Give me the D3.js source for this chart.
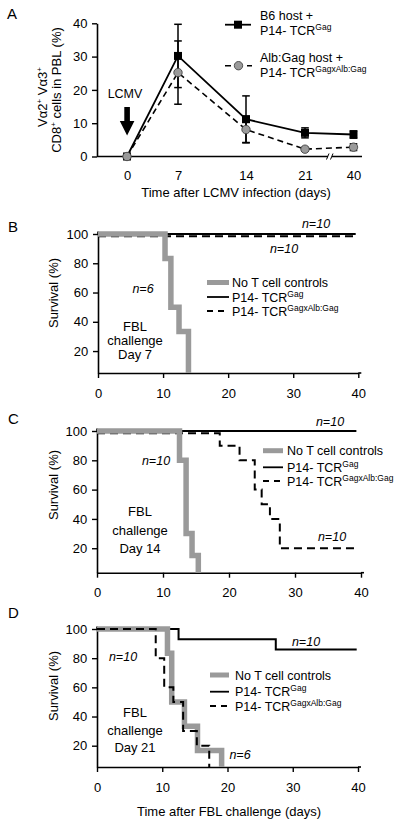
<!DOCTYPE html>
<html><head><meta charset="utf-8">
<script src="https://cdn.jsdelivr.net/npm/d3@7"></script>
<style>
body{margin:0;background:#fff}
svg text{font-family:"Liberation Sans",Arial,Helvetica,sans-serif;fill:#000}
</style>
</head><body>
<svg id="c" width="400" height="826"></svg>
<script>
// ---------------- DATA ----------------
// Panel A
const aDays = [0, 7, 14, 21, 40];
const aDayLabels = ["0", "7", "14", "21", "40"];
const aB6Mean = [0, 30.2, 11.2, 7.1, 6.6];
const aB6Err = [0, 9.5, 7, 1.5, 1.1];
const aAlbMean = [0, 25.2, 8.1, 2.2, 2.8];
const aAlbErr = [0, 9.5, 4, 0.5, 1];
const aYTicks = [0, 10, 20, 30, 40];

// Survival panels
const survXTicks = [0, 10, 20, 30, 40];
const survYTicks = [20, 40, 60, 80, 100];

const bCtrlDays = [0, 10.3, 11.2, 12.45, 13.9];
const bCtrlSurv = [100, 83.3, 50, 33.3, 0];
const bGagDays = [0, 39.6];
const bGagSurv = [100, 100];
const bAlbDays = [0, 39.6];
const bAlbSurv = [98.5, 98.5];

const cCtrlDays = [0, 12.5, 13.5, 14.4, 15.35];
const cCtrlSurv = [100, 80, 30, 15, 0];
const cGagDays = [0, 39.3];
const cGagSurv = [100, 100];
const cAlbDays = [0, 18.6, 21.6, 23.9, 24.95, 26.2, 27.7, 39.3];
const cAlbSurv = [98.5, 90, 80, 60, 50, 40, 20, 20];

const dCtrlDays = [0, 10.8, 11.45, 13.4, 15.4, 19.1];
const dCtrlSurv = [100, 83.3, 50, 33.3, 16.7, 0];
const dGagDays = [0, 12.5, 27.4, 39.8];
const dGagSurv = [100, 93, 86, 86];
const dAlbDays = [0, 9.0, 10.3, 11.7, 13.2, 15.3, 17.2];
const dAlbSurv = [100, 80, 60, 50, 30, 20, 0];

const legendLabels = ["No T cell controls", "P14- TCR", "P14- TCR"];
const legendSups = ["", "Gag", "GagxAlb:Gag"];

// ---------------- DRAWING ----------------
const svg = d3.select("#c");
const GRAY = "#9a9a9a";
const FS = 13;

function styleAxis(sel) {
  sel.attr("font-size", FS).attr("font-family", '"Liberation Sans",Arial,sans-serif');
  sel.selectAll("path.domain").attr("stroke", "#000").attr("stroke-width", 1.6);
  sel.selectAll(".tick line").attr("stroke", "#000").attr("stroke-width", 1.4);
  sel.selectAll(".tick text").attr("fill", "#000");
}

// text with superscript segments
function richText(parent, x, y, segs, opts = {}) {
  const t = parent.append("text").attr("x", x).attr("y", y)
    .attr("font-size", opts.fs || FS)
    .attr("text-anchor", opts.anchor || "start");
  if (opts.transform) t.attr("transform", opts.transform).attr("x", 0).attr("y", 0);
  if (opts.italic) t.attr("font-style", "italic");
  let raised = false;
  segs.forEach(s => {
    const sp = t.append("tspan").text(s.t);
    if (s.sup) {
      sp.attr("font-size", opts.supFs || 8.5).attr("dy", raised ? 0 : -5);
      raised = true;
    } else {
      if (raised) { sp.attr("dy", 5); raised = false; }
    }
  });
  return t;
}

function panelLabel(txt, x, y) {
  svg.append("text").attr("x", x).attr("y", y).attr("font-size", 15).text(txt);
}

// ---------- Panel A ----------
(function () {
  const x = d3.scaleLinear().domain(aDays).range([127, 178, 246, 305, 353.5]);
  const y = d3.scaleLinear().domain([0, 40]).range([156.5, 23.3]);
  const g = svg.append("g");

  // y axis
  const ya = g.append("g").attr("transform", "translate(97,0)")
    .call(d3.axisLeft(y).tickValues(aYTicks).tickSize(5).tickSizeOuter(0).tickPadding(4.5));
  styleAxis(ya);
  // x axis
  const xa = g.append("g").attr("transform", `translate(0,${y(0)})`)
    .call(d3.axisBottom(x).tickValues(aDays).tickFormat((d, i) => aDayLabels[i]).tickSize(0).tickPadding(14.3));
  styleAxis(xa);
  xa.select("path.domain").remove();
  g.append("line").attr("x1", 97).attr("x2", 362).attr("y1", y(0)).attr("y2", y(0))
    .attr("stroke", "#000").attr("stroke-width", 1.6);
  // axis break
  g.append("rect").attr("x", 328).attr("y", y(0) - 3).attr("width", 4).attr("height", 6).attr("fill", "#fff");
  [326.5, 330.5].forEach(bx => g.append("line").attr("x1", bx).attr("x2", bx + 2.5)
    .attr("y1", y(0) + 3).attr("y2", y(0) - 3).attr("stroke", "#000").attr("stroke-width", 1));

  const line = d3.line().x((d, i) => x(aDays[i])).y(d => y(d));

  function errBars(mean, err, color) {
    mean.forEach((m, i) => {
      if (!err[i]) return;
      const cx = x(aDays[i]);
      g.append("line").attr("x1", cx).attr("x2", cx).attr("y1", y(m - err[i])).attr("y2", y(m + err[i]))
        .attr("stroke", color).attr("stroke-width", 1.5);
      [m - err[i], m + err[i]].forEach(v => g.append("line").attr("x1", cx - 3.8).attr("x2", cx + 3.8)
        .attr("y1", y(v)).attr("y2", y(v)).attr("stroke", color).attr("stroke-width", 1.5));
    });
  }

  // B6 series
  g.append("path").datum(aB6Mean).attr("d", line).attr("fill", "none").attr("stroke", "#000").attr("stroke-width", 1.8);
  errBars(aB6Mean, aB6Err, "#000");
  g.selectAll(".sq").data(aB6Mean).enter().append("rect")
    .attr("x", (d, i) => x(aDays[i]) - 4).attr("y", d => y(d) - 4).attr("width", 8).attr("height", 8).attr("fill", "#000");

  // Alb:Gag series
  g.append("path").datum(aAlbMean).attr("d", line).attr("fill", "none").attr("stroke", "#000")
    .attr("stroke-width", 1.6).attr("stroke-dasharray", "6,4");
  errBars(aAlbMean, aAlbErr, "#000");
  g.selectAll(".ci").data(aAlbMean).enter().append("circle")
    .attr("cx", (d, i) => x(aDays[i])).attr("cy", d => y(d)).attr("r", 4.2)
    .attr("fill", GRAY).attr("stroke", "#444").attr("stroke-width", 0.9);

  // legend
  g.append("line").attr("x1", 225).attr("x2", 251).attr("y1", 24.7).attr("y2", 24.7).attr("stroke", "#000").attr("stroke-width", 1.8);
  g.append("rect").attr("x", 234).attr("y", 20.7).attr("width", 8).attr("height", 8).attr("fill", "#000");
  g.append("line").attr("x1", 225).attr("x2", 252).attr("y1", 65.7).attr("y2", 65.7).attr("stroke", "#000")
    .attr("stroke-width", 1.6).attr("stroke-dasharray", "6,5");
  g.append("circle").attr("cx", 238.5).attr("cy", 65.7).attr("r", 4.2).attr("fill", GRAY).attr("stroke", "#444").attr("stroke-width", 0.9);
  richText(g, 260, 20, [{t: "B6 host +"}], {fs: 12.5});
  richText(g, 260, 35, [{t: "P14- TCR"}, {t: "Gag", sup: true}], {fs: 12.5});
  richText(g, 260, 62, [{t: "Alb:Gag host +"}], {fs: 12.5});
  richText(g, 260, 76.5, [{t: "P14- TCR"}, {t: "GagxAlb:Gag", sup: true}], {fs: 12.5});

  // LCMV arrow
  g.append("text").attr("x", 125).attr("y", 98).attr("text-anchor", "middle").attr("font-size", 12.5).text("LCMV");
  g.append("path").attr("d", "M124.3,107H129.9V121H134.4L127.1,135.5L119.8,121H124.3Z").attr("fill", "#000");

  // axis titles
  g.append("text").attr("x", 236).attr("y", 196.5).attr("text-anchor", "middle").attr("font-size", FS)
    .text("Time after LCMV infection (days)");
  richText(g, 0, 0, [{t: "V\u03b12"}, {t: "+", sup: true}, {t: " V\u03b13"}, {t: "+", sup: true}],
    {anchor: "middle", transform: "translate(46.5,97) rotate(-90)", fs: FS, supFs: 8});
  richText(g, 0, 0, [{t: "CD8"}, {t: "+", sup: true}, {t: " cells in PBL (%)"}],
    {anchor: "middle", transform: "translate(60.5,90) rotate(-90)", fs: FS, supFs: 8});
})();
panelLabel("A", 7, 18.5);

// ---------- Survival panels ----------
function survPanel(cfg) {
  const x = d3.scaleLinear().domain([0, 40]).range(cfg.xr);
  const y = d3.scaleLinear().domain([cfg.ymin, 100]).range(cfg.yr).clamp(true);
  const g = svg.append("g");

  const xa = g.append("g").attr("transform", `translate(0,${cfg.yr[0]})`)
    .call(d3.axisBottom(x).tickValues(survXTicks).tickSize(5).tickSizeOuter(0).tickPadding(10.5));
  styleAxis(xa);
  const ya = g.append("g").attr("transform", `translate(${cfg.xr[0]},0)`)
    .call(d3.axisLeft(y).tickValues(survYTicks).tickSize(5).tickSizeOuter(0).tickPadding(4.8));
  styleAxis(ya);
  g.append("line").attr("x1", cfg.xr[0]).attr("x2", cfg.xr[0]).attr("y1", y(100)).attr("y2", y(100) - 2.5)
    .attr("stroke", "#000").attr("stroke-width", 1.6);
  g.append("line").attr("x1", cfg.xr[1]).attr("x2", cfg.xr[1] + 3).attr("y1", cfg.yr[0]).attr("y2", cfg.yr[0])
    .attr("stroke", "#000").attr("stroke-width", 1.6);

  const line = d3.line().x(d => x(d[0])).y(d => y(d[1])).curve(d3.curveStepAfter);
  const zip = (a, b) => a.map((v, i) => [v, b[i]]);

  const drawGag = () => g.append("path").datum(zip(cfg.gag[0], cfg.gag[1])).attr("d", line)
    .attr("fill", "none").attr("stroke", "#000").attr("stroke-width", 2);
  const drawAlb = () => g.append("path").datum(zip(cfg.alb[0], cfg.alb[1])).attr("d", line)
    .attr("fill", "none").attr("stroke", "#000").attr("stroke-width", 2).attr("stroke-dasharray", "8,5");
  const drawCtrl = () => g.append("path").datum(zip(cfg.ctrl[0], cfg.ctrl[1])).attr("d", line)
    .attr("fill", "none").attr("stroke", GRAY).attr("stroke-width", 5.5);

  drawGag();
  if (cfg.dashedOnTop) { drawCtrl(); drawAlb(); } else { drawAlb(); drawCtrl(); }

  // legend
  const L = cfg.leg;
  g.append("line").attr("x1", L.x0).attr("x2", L.x1).attr("y1", L.rows[0]).attr("y2", L.rows[0])
    .attr("stroke", GRAY).attr("stroke-width", 5);
  g.append("line").attr("x1", L.x0).attr("x2", L.x1).attr("y1", L.rows[1]).attr("y2", L.rows[1])
    .attr("stroke", "#000").attr("stroke-width", 1.8);
  g.append("line").attr("x1", L.x0).attr("x2", L.x1).attr("y1", L.rows[2]).attr("y2", L.rows[2])
    .attr("stroke", "#000").attr("stroke-width", 1.8).attr("stroke-dasharray", "6,5");
  legendLabels.forEach((lab, i) => {
    const segs = [{t: lab}];
    if (legendSups[i]) segs.push({t: legendSups[i], sup: true});
    richText(g, L.tx, L.rows[i] + 4.6, segs, {fs: 12.5});
  });

  // n labels
  cfg.nLabels.forEach(n => g.append("text").attr("x", n[1]).attr("y", n[2]).attr("text-anchor", "middle")
    .attr("font-size", 12.5).attr("font-style", "italic").text(n[0]));
  // FBL block
  cfg.fbl.forEach(f => g.append("text").attr("x", cfg.fblX).attr("y", f[1]).attr("text-anchor", "middle")
    .attr("font-size", FS).text(f[0]));
  // y title
  g.append("text").attr("transform", `translate(57.5,${cfg.yTitleY}) rotate(-90)`).attr("text-anchor", "middle")
    .attr("font-size", FS).text("Survival (%)");
}

survPanel({
  xr: [98, 358.3], yr: [373, 234], ymin: 5,
  ctrl: [bCtrlDays, bCtrlSurv], gag: [bGagDays, bGagSurv], alb: [bAlbDays, bAlbSurv],
  leg: {x0: 207, x1: 229, tx: 232, rows: [282.5, 297, 311]},
  nLabels: [["n=10", 316, 228], ["n=10", 284, 253], ["n=6", 143, 293]],
  fblX: 135, fbl: [["FBL", 331], ["challenge", 345], ["Day 7", 359]],
  yTitleY: 293
});
panelLabel("B", 8, 232);

survPanel({
  xr: [97, 361], yr: [572.7, 431], ymin: 3.3,
  ctrl: [cCtrlDays, cCtrlSurv], gag: [cGagDays, cGagSurv], alb: [cAlbDays, cAlbSurv],
  leg: {x0: 263, x1: 283, tx: 287, rows: [450.7, 467.3, 481]},
  nLabels: [["n=10", 330, 426], ["n=10", 156, 465], ["n=10", 332, 541]],
  fblX: 140, fbl: [["FBL", 516], ["challenge", 535], ["Day 14", 553]],
  yTitleY: 485
});
panelLabel("C", 8, 424);

survPanel({
  xr: [97, 358], yr: [767, 629], ymin: 5.4, dashedOnTop: true,
  ctrl: [dCtrlDays, dCtrlSurv], gag: [dGagDays, dGagSurv], alb: [dAlbDays, dAlbSurv],
  leg: {x0: 210, x1: 229, tx: 235, rows: [675, 691.7, 706]},
  nLabels: [["n=10", 306, 646], ["n=10", 123, 661], ["n=6", 240, 759]],
  fblX: 135, fbl: [["FBL", 717], ["challenge", 735], ["Day 21", 752]],
  yTitleY: 686
});
panelLabel("D", 8, 618);

svg.append("text").attr("x", 229).attr("y", 816).attr("text-anchor", "middle").attr("font-size", FS)
  .text("Time after FBL challenge (days)");
</script>
</body></html>
